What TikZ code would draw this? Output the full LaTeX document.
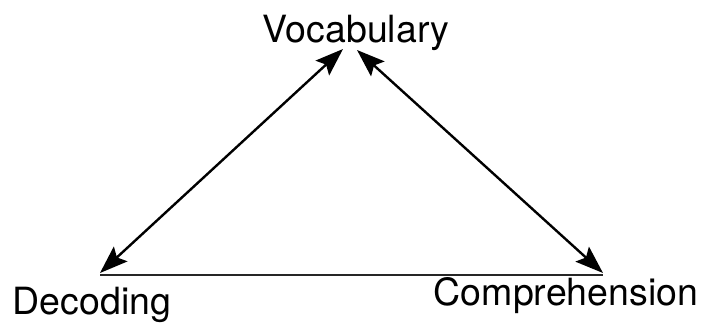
\documentclass[tikz,border=0pt]{standalone}
\usepackage{fontspec}
\setmainfont{TeX Gyre Heros}
\usepackage{tikz}
\usetikzlibrary{arrows.meta, positioning}

\begin{document}
\begin{tikzpicture}[
  head/.tip={Stealth[length=28pt, width=20pt, inset=5pt]},
  word/.style={inner sep=0pt, anchor=base, font=\fontsize{37.5}{40}\selectfont},
  twoway/.style={line width=2.4pt, head-head},
  floor/.style={line width=2pt, black!85},
]
  \useasboundingbox (0pt,0pt) rectangle (702pt,-322pt);

  \node[word] (vocab) at (356pt,-42pt) {Vocabulary};
  \node[word] (decode) at (92pt,-314pt) {Decoding};
  \node[word] (compre) at (566pt,-305pt) {Comprehension};

  % arrow ends
  \coordinate (vocabL) at (343pt,-49pt);
  \coordinate (vocabR) at (357pt,-50pt);
  \coordinate (decodeT) at (100pt,-273pt);
  \coordinate (compreT) at (603pt,-273pt);

  \draw[twoway] (decodeT) -- (vocabL);
  \draw[twoway] (vocabR) -- (compreT);
  \draw[floor] ([yshift=-2pt]decodeT) -- ([yshift=-2pt]compreT);
\end{tikzpicture}
\end{document}
